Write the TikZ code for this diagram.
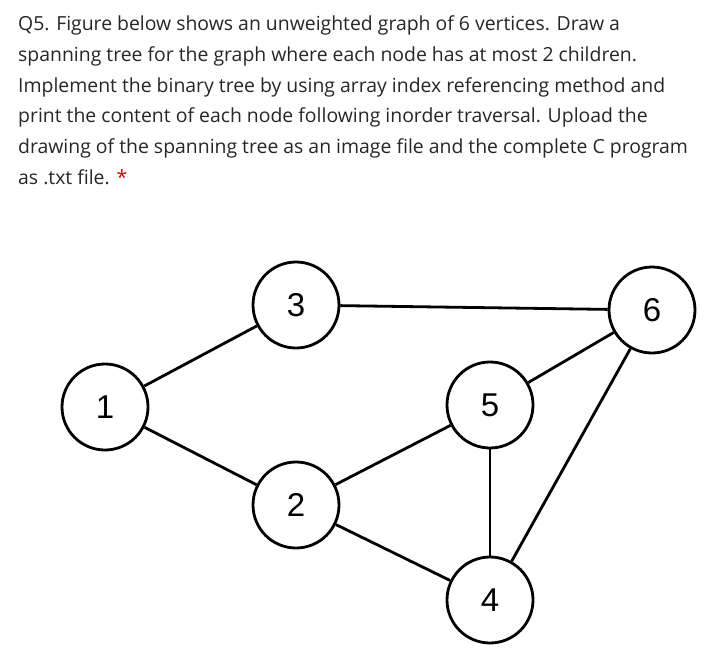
\documentclass[tikz,border=0pt]{standalone}
\usepackage{fontspec}
\setmainfont{Open Sans}
\newfontfamily\digfont{Liberation Sans}
\begin{document}
\begin{tikzpicture}[x=1pt,y=-1pt,
  vtx/.style={circle,draw,line width=2.8pt,minimum size=86pt,inner sep=0pt,font=\digfont\fontsize{33}{33}\selectfont},
  edge/.style={line width=2.8pt},
  txt/.style={anchor=base west,inner sep=0pt,font=\fontsize{19.4}{22}\selectfont,text=black!85}]
\useasboundingbox (0,0) rectangle (705,657);
\node[txt] (l1) at (18,30) {Q5. Figure below shows an unweighted graph of 6 vertices. Draw a};
\node[txt] (l2) at (18,61) {spanning tree for the graph where each node has at most 2 children.};
\node[txt] (l3) at (18,92) {Implement the binary tree by using array index referencing method and};
\node[txt] (l4) at (18,122) {print the content of each node following inorder traversal. Upload the};
\node[txt] (l5) at (18,153) {drawing of the spanning tree as an image file and the complete C program};
\node[txt] (l6) at (18,184) {as .txt file. \textcolor{red!80!black}{*}};
\node[vtx] (n1) at (105,407) {1};
\node[vtx] (n3) at (296,305) {3};
\node[vtx] (n6) at (652,310) {6};
\node[vtx] (n5) at (490,405) {5};
\node[vtx] (n2) at (296,505) {2};
\node[vtx] (n4) at (490,600) {4};
\draw[edge] (n1)--(n3);
\draw[edge] (n1)--(n2);
\draw[edge] (n3)--(n6);
\draw[edge] (n5)--(n6);
\draw[edge] (n6)--(n4);
\draw[edge] (n2)--(n5);
\draw[edge] (n2)--(n4);
\draw[edge] (n5)--(n4);
\end{tikzpicture}
\end{document}
